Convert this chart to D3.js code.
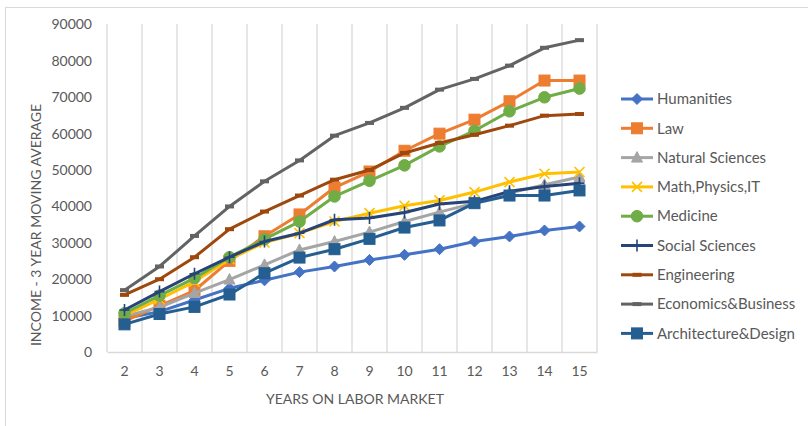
<!DOCTYPE html>
<html>
<head>
<meta charset="utf-8">
<script src="https://cdn.jsdelivr.net/npm/d3@7/dist/d3.min.js"></script>
<style>
  html, body { margin: 0; padding: 0; background: #fff; }
  svg { display: block; font-family: Lato, "Open Sans", sans-serif; }
</style>
</head>
<body>
<svg id="chart" width="808" height="426"></svg>
<script>
// Years on the labour market (category axis)
const years = [2, 3, 4, 5, 6, 7, 8, 9, 10, 11, 12, 13, 14, 15];

// Income, 3-year moving average, by field of study
const humanities   = [9200, 11100, 14300, 17500, 19700, 21950, 23500, 25300, 26700, 28250, 30350, 31750, 33400, 34500];
const law          = [8500, 12700, 16900, 25050, 31800, 37800, 45200, 49600, 55300, 60000, 63850, 68900, 74600, 74600];
const naturalSci   = [9800, 12300, 16200, 19900, 23950, 28050, 30350, 32950, 35850, 38450, 40900, 43650, 45950, 48100];
const mathPhysIT   = [10000, 14500, 19350, 25500, 30100, 32650, 35850, 38150, 40200, 41650, 43950, 46700, 49000, 49450];
const medicine     = [10650, 15500, 20300, 26050, 31000, 35850, 42750, 47050, 51300, 56500, 60800, 66150, 70000, 72400];
const socialSci    = [11550, 16600, 21500, 26050, 30350, 32650, 36350, 36800, 38350, 40650, 41400, 44150, 45500, 46400];
const engineering  = [15700, 20000, 26050, 33750, 38600, 43000, 47350, 50000, 54700, 57450, 59700, 62200, 64950, 65400];
const economics    = [17000, 23500, 31900, 40000, 46900, 52650, 59450, 62950, 67100, 72100, 75050, 78700, 83600, 85700];
const architecture = [7600, 10450, 12400, 15800, 21650, 25950, 28250, 31100, 34200, 36150, 40900, 43000, 43000, 44400];

const yTicks = [0, 10000, 20000, 30000, 40000, 50000, 60000, 70000, 80000, 90000];

const seriesNames = ["Humanities", "Law", "Natural Sciences", "Math,Physics,IT", "Medicine",
                     "Social Sciences", "Engineering", "Economics&Business", "Architecture&Design"];
const seriesValues = [humanities, law, naturalSci, mathPhysIT, medicine, socialSci, engineering, economics, architecture];
const seriesColors = ["#4472C4", "#ED7D31", "#A5A5A5", "#FFC000", "#70AD47",
                      "#264478", "#9E480E", "#636363", "#255E91"];
const seriesMarkers = ["diamond", "square", "triangle", "x", "circle", "plus", "dash", "dash", "square"];

const series = seriesNames.map((name, i) => ({
  name, color: seriesColors[i], marker: seriesMarkers[i],
  points: years.map((yr, j) => ({ year: yr, value: seriesValues[i][j] }))
}));

const svg = d3.select("#chart");
const plot = { left: 107, right: 597, top: 24, bottom: 352 };

// Outer chart frame (runs off the right and bottom edges)
svg.append("rect")
  .attr("x", 5.5).attr("y", 7.5).attr("width", 830).attr("height", 440)
  .attr("fill", "none").attr("stroke", "#d9d9d9").attr("stroke-width", 1);

const x = d3.scaleBand().domain(years).range([plot.left, plot.right]).padding(0);
const y = d3.scaleLinear().domain([0, 90000]).range([plot.bottom, plot.top + 0.5]);

// Vertical gridlines on category boundaries
const bounds = years.map(d => x(d)).concat([plot.right]);
svg.append("g").selectAll("line").data(bounds).join("line")
  .attr("x1", d => d).attr("x2", d => d)
  .attr("y1", plot.top).attr("y2", plot.bottom)
  .attr("stroke", "#d9d9d9").attr("stroke-width", 1.3);

// X axis line and labels
const xAxis = svg.append("g")
  .attr("transform", `translate(0,${plot.bottom})`)
  .call(d3.axisBottom(x).tickSize(0).tickPadding(14));
xAxis.select(".domain").attr("stroke", "#d9d9d9").attr("stroke-width", 1.5);
xAxis.selectAll("text").attr("fill", "#595959").attr("font-size", 14)
  .attr("font-family", "Lato, 'Open Sans', sans-serif");

// Y axis labels only
const yAxis = svg.append("g")
  .attr("transform", `translate(${plot.left - 15},0)`)
  .call(d3.axisLeft(y).tickValues(yTicks).tickSize(0).tickPadding(0).tickFormat(d3.format("d")));
yAxis.select(".domain").remove();
yAxis.selectAll("text").attr("fill", "#595959").attr("font-size", 14)
  .attr("font-family", "Lato, 'Open Sans', sans-serif");

// Axis titles
svg.append("text")
  .attr("x", 355).attr("y", 404)
  .attr("text-anchor", "middle").attr("fill", "#595959").attr("font-size", 14)
  .text("YEARS ON LABOR MARKET");
svg.append("text")
  .attr("transform", "translate(41,225) rotate(-90)")
  .attr("text-anchor", "middle").attr("fill", "#595959").attr("font-size", 14)
  .text("INCOME - 3 YEAR MOVING AVERAGE");

// Marker drawing
function drawMarker(g, type, color) {
  switch (type) {
    case "diamond":
      g.append("path").attr("d", "M0,-5.5L5.5,0L0,5.5L-5.5,0Z").attr("fill", color).attr("stroke", color);
      break;
    case "square":
      g.append("rect").attr("x", -5.5).attr("y", -5.5).attr("width", 11).attr("height", 11)
        .attr("fill", color).attr("stroke", color);
      break;
    case "triangle":
      g.append("path").attr("d", "M0,-6L5.5,4.5L-5.5,4.5Z").attr("fill", color).attr("stroke", color);
      break;
    case "circle":
      g.append("circle").attr("r", 5.8).attr("fill", color).attr("stroke", color);
      break;
    case "x":
      g.append("path").attr("d", "M-5,-5L5,5M-5,5L5,-5").attr("stroke", color).attr("stroke-width", 1.6).attr("fill", "none");
      break;
    case "plus":
      g.append("path").attr("d", "M0,-6L0,6M-5,0L5,0").attr("stroke", color).attr("stroke-width", 1.6).attr("fill", "none");
      break;
    case "dash":
      g.append("rect").attr("x", -4.5).attr("y", -2).attr("width", 9).attr("height", 4).attr("fill", color);
      break;
  }
}

const line = d3.line().x(d => x(d.year) + x.bandwidth() / 2).y(d => y(d.value));

const seriesG = svg.append("g").selectAll("g").data(series).join("g");
seriesG.append("path")
  .attr("d", d => line(d.points))
  .attr("fill", "none").attr("stroke", d => d.color).attr("stroke-width", 3)
  .attr("stroke-linejoin", "round").attr("stroke-linecap", "round");
seriesG.each(function (s) {
  const g = d3.select(this);
  s.points.forEach(p => {
    const m = g.append("g").attr("transform", `translate(${x(p.year) + x.bandwidth() / 2},${y(p.value)})`);
    drawMarker(m, s.marker, s.color);
  });
});

// Legend
const legend = svg.append("g").attr("transform", "translate(621,99)");
const items = legend.selectAll("g").data(series).join("g")
  .attr("transform", (d, i) => `translate(0,${i * 29.3})`);
items.append("line").attr("x1", 0).attr("x2", 32).attr("y1", 0).attr("y2", 0)
  .attr("stroke", d => d.color).attr("stroke-width", 3);
items.each(function (s) {
  const m = d3.select(this).append("g").attr("transform", "translate(16,0)");
  drawMarker(m, s.marker, s.color);
});
items.append("text").attr("x", 36).attr("y", 0).attr("dy", "0.35em")
  .attr("fill", "#595959").attr("font-size", 15)
  .text(d => d.name);
</script>
</body>
</html>
